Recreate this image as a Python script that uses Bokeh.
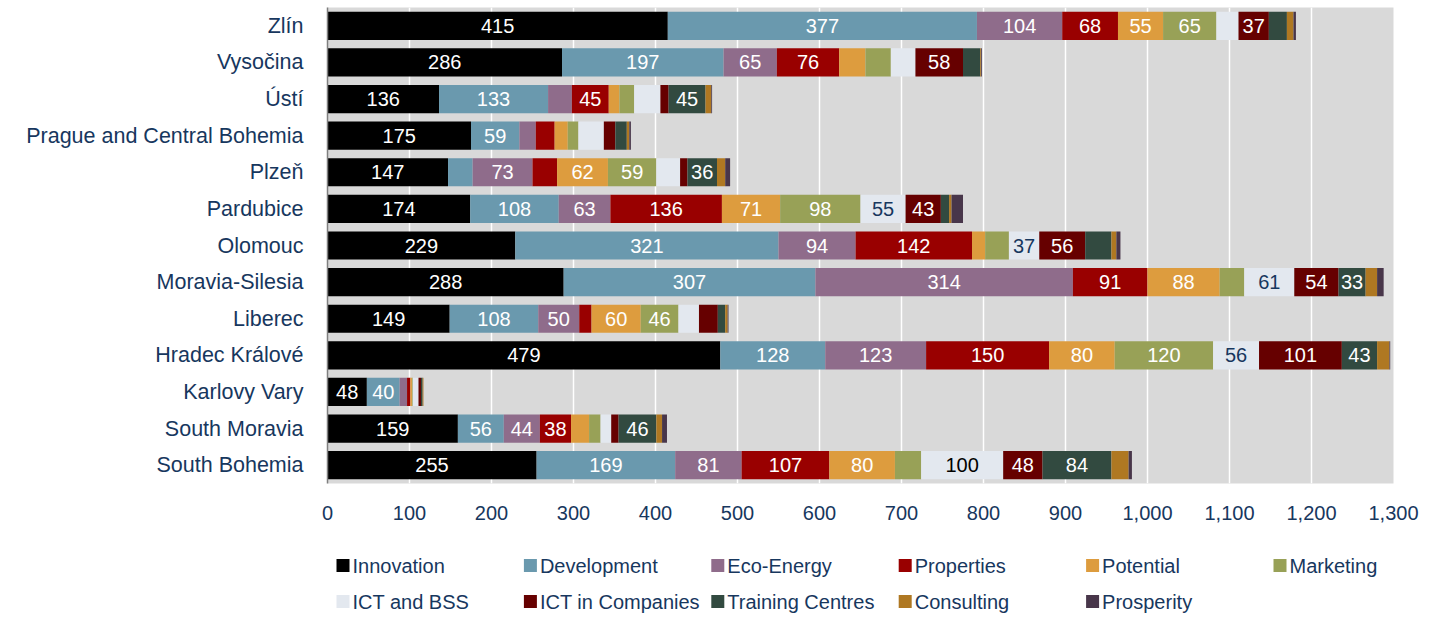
from bokeh.plotting import figure
from bokeh.models import (ColumnDataSource, FactorRange, Range1d, FixedTicker,
                          NumeralTickFormatter)
from bokeh.layouts import column
from bokeh.core.properties import value
from bokeh.embed import file_html
from bokeh.resources import INLINE

# ---------------- data ----------------
regions = ["Zlín", "Vysočina", "Ústí", "Prague and Central Bohemia", "Plzeň",
           "Pardubice", "Olomouc", "Moravia-Silesia", "Liberec", "Hradec Králové",
           "Karlovy Vary", "South Moravia", "South Bohemia"]

series_names = ["Innovation", "Development", "Eco-Energy", "Properties", "Potential",
                "Marketing", "ICT and BSS", "ICT in Companies", "Training Centres",
                "Consulting", "Prosperity"]

innovation    = [415, 286, 136, 175, 147, 174, 229, 288, 149, 479, 48, 159, 255]
development   = [377, 197, 133, 59, 30, 108, 321, 307, 108, 128, 40, 56, 169]
eco_energy    = [104, 65, 29, 20, 73, 63, 94, 314, 50, 123, 9, 44, 81]
properties    = [68, 76, 45, 23, 30, 136, 142, 91, 15, 150, 4, 38, 107]
potential     = [55, 32, 13, 16, 62, 71, 16, 88, 60, 80, 2, 22, 80]
marketing     = [65, 31, 18, 13, 59, 98, 29, 30, 46, 120, 1, 14, 32]
ict_bss       = [27, 30, 32, 31, 29, 55, 37, 61, 25, 56, 7, 13, 100]
ict_companies = [37, 58, 10, 14, 9, 43, 56, 54, 23, 101, 3, 9, 48]
training      = [22, 21, 45, 14, 36, 10, 32, 33, 9, 43, 2, 46, 84]
consulting    = [8, 1, 7, 3, 10, 3, 6, 14, 3, 15, 1, 7, 21]
prosperity    = [3, 1, 1, 2, 6, 14, 5, 8, 1, 1, 0, 6, 4]

x_ticks = [0, 100, 200, 300, 400, 500, 600, 700, 800, 900, 1000, 1100, 1200, 1300]

series_values = [innovation, development, eco_energy, properties, potential, marketing,
                 ict_bss, ict_companies, training, consulting, prosperity]

# ---------------- styles ----------------
colors = ["#000000", "#6A99AE", "#8F6C8B", "#990000", "#DD9C3E", "#98A157",
          "#E3E8EF", "#660000", "#324A40", "#AF7822", "#48364A"]
NAVY = "#17375E"
FONT = "Liberation Sans"
W = 1425
LEFT, RIGHT = 327, 32

keys = ["s%d" % i for i in range(len(series_names))]
data = {"region": regions}
for k, v in zip(keys, series_values):
    data[k] = v
source = ColumnDataSource(data)

p = figure(width=W, height=535, output_backend="svg", toolbar_location=None,
           y_range=FactorRange(factors=list(reversed(regions)), range_padding=0),
           x_range=Range1d(0, 1300),
           min_border_left=LEFT, min_border_right=RIGHT, min_border_top=7,
           min_border_bottom=52)

renderers = p.hbar_stack(keys, y="region", height=0.77, color=colors, source=source,
                         line_color=None)

# value labels inside segments
lx, ly, lt, lc = [], [], [], []
for ri, reg in enumerate(regions):
    left = 0
    for si, vals in enumerate(series_values):
        v = vals[ri]
        if v >= 33:
            lx.append(left + v / 2)
            ly.append(reg)
            lt.append(str(v))
            if si == 6:
                lc.append("#000000" if v >= 100 else NAVY)
            else:
                lc.append("#FFFFFF")
        left += v
lab_src = ColumnDataSource(dict(x=lx, y=ly, t=lt, c=lc))
p.text(x="x", y="y", text="t", source=lab_src, text_color="c",
       text_font=value(FONT), text_font_size="20px",
       text_align="center", text_baseline="middle")

# axes and grid
p.background_fill_color = "#D9D9D9"
p.outline_line_color = None
p.xgrid.grid_line_color = "#FFFFFF"
p.xgrid.grid_line_width = 1.5
p.ygrid.grid_line_color = None

p.xaxis.ticker = FixedTicker(ticks=x_ticks)
p.xaxis.formatter = NumeralTickFormatter(format="0,0")
p.xaxis.axis_line_color = None
p.xaxis.major_tick_line_color = None
p.xaxis.minor_tick_line_color = None
p.xaxis.major_tick_out = 0
p.xaxis.major_tick_in = 0
p.xaxis.major_label_standoff = 22
p.xaxis.major_label_text_font = FONT
p.xaxis.major_label_text_font_size = "20px"
p.xaxis.major_label_text_color = NAVY

p.yaxis.axis_line_color = "#7F7F7F"
p.yaxis.axis_line_width = 1.5
p.yaxis.major_tick_line_color = None
p.yaxis.minor_tick_line_color = None
p.yaxis.major_tick_out = 0
p.yaxis.major_tick_in = 0
p.yaxis.major_label_standoff = 24
p.yaxis.major_label_text_font = FONT
p.yaxis.major_label_text_font_size = "21.5px"
p.yaxis.major_label_text_color = NAVY

# ---------------- legend (separate strip, page-pixel coordinates) ----------------
LH = 87
ncols = 6
col_x0, col_dx = 336, 187.4
row_y0, row_dy = 30, 36
sw_x, sw_y, tx, ty = [], [], [], []
for i, name in enumerate(series_names):
    r, c = divmod(i, ncols)
    x = col_x0 + c * col_dx
    y = row_y0 + r * row_dy
    sw_x.append(x + 6.5)
    sw_y.append(y)
    tx.append(x + 16)
    ty.append(y)
leg_src = ColumnDataSource(dict(sx=sw_x, sy=sw_y, tx=tx, ty=ty,
                                name=series_names, color=colors))
p2 = figure(width=W, height=LH, output_backend="svg", toolbar_location=None,
            x_range=Range1d(LEFT, W - RIGHT), y_range=Range1d(LH, 0),
            min_border_left=LEFT, min_border_right=RIGHT,
            min_border_top=0, min_border_bottom=0, outline_line_color=None)
p2.axis.visible = False
p2.grid.visible = False
p2.rect(x="sx", y="sy", width=13, height=13, width_units="screen",
        height_units="screen", fill_color="color", line_color=None, source=leg_src)
p2.text(x="tx", y="ty", text="name", source=leg_src, text_color=NAVY,
        text_font=value(FONT), text_font_size="20px",
        text_align="left", text_baseline="middle")

layout = column(p, p2, spacing=0)
open("out.html", "w").write(file_html(layout, INLINE))
